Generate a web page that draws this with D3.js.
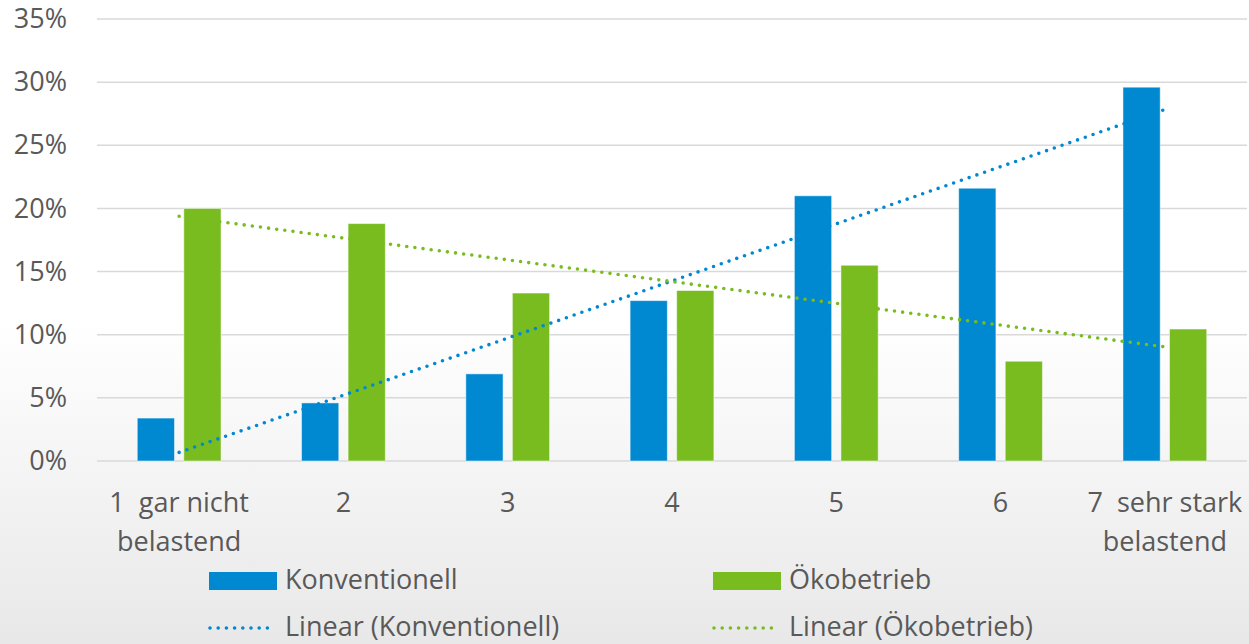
<!DOCTYPE html>
<html>
<head>
<meta charset="utf-8">
<script src="https://cdn.jsdelivr.net/npm/d3@7"></script>
<style>
  html, body { margin: 0; padding: 0; }
  body { width: 1249px; height: 644px; overflow: hidden; }
  text { font-family: "Open Sans", Lato, sans-serif; fill: #595959; }
</style>
</head>
<body>
<div id="chart"></div>
<script>
// Data
const categories = ["1  gar nicht|belastend", "2", "3", "4", "5", "6", "7  sehr stark|belastend"];
const konventionell = [3.4, 4.6, 6.9, 12.7, 21.0, 21.6, 29.6];
const oekobetrieb = [20.0, 18.8, 13.3, 13.5, 15.5, 7.9, 10.45];
const seriesNames = ["Konventionell", "Ökobetrieb"];
const trendNames = ["Linear (Konventionell)", "Linear (Ökobetrieb)"];
const yTicks = [0, 5, 10, 15, 20, 25, 30, 35];

const colors = { Konventionell: "#0088d1", "Ökobetrieb": "#78bc20" };

const width = 1249;
const height = 644;
const marginTop = 19;
const marginLeft = 97;
const marginRight = 2;
const plotBottom = 461;
const fontSize = "27px";

const svg = d3.select("#chart")
  .append("svg")
  .attr("width", width)
  .attr("height", height);

// background gradient
const defs = svg.append("defs");
const grad = defs.append("linearGradient")
  .attr("id", "bg").attr("x1", 0).attr("y1", 0).attr("x2", 0).attr("y2", 1);
grad.append("stop").attr("offset", "0%").attr("stop-color", "#ffffff");
grad.append("stop").attr("offset", "50%").attr("stop-color", "#ffffff");
grad.append("stop").attr("offset", "100%").attr("stop-color", "#e8e8e8");
svg.append("rect").attr("width", width).attr("height", height).attr("fill", "url(#bg)");

// scales
const x0 = d3.scaleBand()
  .domain(categories)
  .range([marginLeft, width - marginRight])
  .paddingInner(0.49)
  .paddingOuter(0.245);

const x1 = d3.scaleBand()
  .domain(seriesNames)
  .range([0, x0.bandwidth()])
  .paddingInner(0.2);

const y = d3.scaleLinear()
  .domain([0, 35])
  .range([plotBottom, marginTop]);

// gridlines
svg.append("g")
  .selectAll("line")
  .data(yTicks)
  .join("line")
  .attr("x1", marginLeft)
  .attr("x2", width - marginRight)
  .attr("y1", d => y(d))
  .attr("y2", d => y(d))
  .attr("stroke", "#d9d9d9")
  .attr("stroke-width", 1.5);

// y axis labels
const yAxis = svg.append("g")
  .attr("transform", `translate(67,0)`)
  .call(d3.axisLeft(y).tickValues(yTicks).tickSize(0).tickPadding(0).tickFormat(d => d + "%"));
yAxis.select(".domain").remove();
yAxis.selectAll("text")
  .style("font-size", fontSize)
  .style("font-family", "'Open Sans', Lato, sans-serif")
  .attr("fill", "#595959");

// x axis labels
const xAxis = svg.append("g")
  .attr("transform", `translate(0,${plotBottom})`)
  .call(d3.axisBottom(x0).tickSize(0).tickFormat(""));
xAxis.select(".domain").remove();
xAxis.selectAll(".tick").each(function(d) {
  const lines = d.split("|");
  const t = d3.select(this).append("text")
    .attr("text-anchor", "middle")
    .attr("fill", "#595959")
    .style("font-size", fontSize);
  lines.forEach((ln, i) => {
    t.append("tspan")
      .attr("x", 0)
      .attr("y", 51 + i * 39)
      .attr("xml:space", "preserve")
      .text(ln);
  });
});

// bars
const rows = categories.map((c, i) => ({ cat: c, Konventionell: konventionell[i], "Ökobetrieb": oekobetrieb[i] }));
svg.append("g")
  .selectAll("g")
  .data(rows)
  .join("g")
  .attr("transform", d => `translate(${x0(d.cat)},0)`)
  .selectAll("rect")
  .data(d => seriesNames.map(k => ({ key: k, value: d[k] })))
  .join("rect")
  .attr("x", d => x1(d.key))
  .attr("width", x1.bandwidth())
  .attr("y", d => y(d.value))
  .attr("height", d => y(0) - y(d.value))
  .attr("fill", d => colors[d.key])
  .attr("stroke", "#ffffff")
  .attr("stroke-opacity", 0.5)
  .attr("stroke-width", 1);

// linear trendlines (least squares on category index 1..7)
function linearFit(vals) {
  const n = vals.length;
  const xs = vals.map((_, i) => i + 1);
  const mx = d3.mean(xs), my = d3.mean(vals);
  const slope = d3.sum(xs, (xv, i) => (xv - mx) * (vals[i] - my)) / d3.sum(xs, xv => (xv - mx) ** 2);
  const icpt = my - slope * mx;
  return [1, n].map(xv => ({ i: xv - 1, v: icpt + slope * xv }));
}
const center = i => x0(categories[i]) + x0.bandwidth() / 2;
const line = d3.line().x(d => center(d.i)).y(d => y(d.v));

[konventionell, oekobetrieb].forEach((vals, k) => {
  svg.append("path")
    .datum(linearFit(vals))
    .attr("d", line)
    .attr("fill", "none")
    .attr("stroke", colors[seriesNames[k]])
    .attr("stroke-width", 3.6)
    .attr("stroke-linecap", "round")
    .attr("stroke-dasharray", "0 8.2");
});

// legend
const legend = svg.append("g");
const legendX = [209, 713];
seriesNames.forEach((name, k) => {
  legend.append("rect")
    .attr("x", legendX[k])
    .attr("y", 572)
    .attr("width", 68)
    .attr("height", 18)
    .attr("fill", colors[name]);
  legend.append("text")
    .attr("x", legendX[k] + 76)
    .attr("y", 580)
    .attr("dy", "0.35em")
    .style("font-size", fontSize)
    .text(name);
  legend.append("line")
    .attr("x1", legendX[k] + 1)
    .attr("x2", legendX[k] + 63)
    .attr("y1", 628)
    .attr("y2", 628)
    .attr("stroke", colors[name])
    .attr("stroke-width", 3.6)
    .attr("stroke-linecap", "round")
    .attr("stroke-dasharray", "0 8.2");
  legend.append("text")
    .attr("x", legendX[k] + 76)
    .attr("y", 627)
    .attr("dy", "0.35em")
    .style("font-size", fontSize)
    .text(trendNames[k]);
});
</script>
</body>
</html>
